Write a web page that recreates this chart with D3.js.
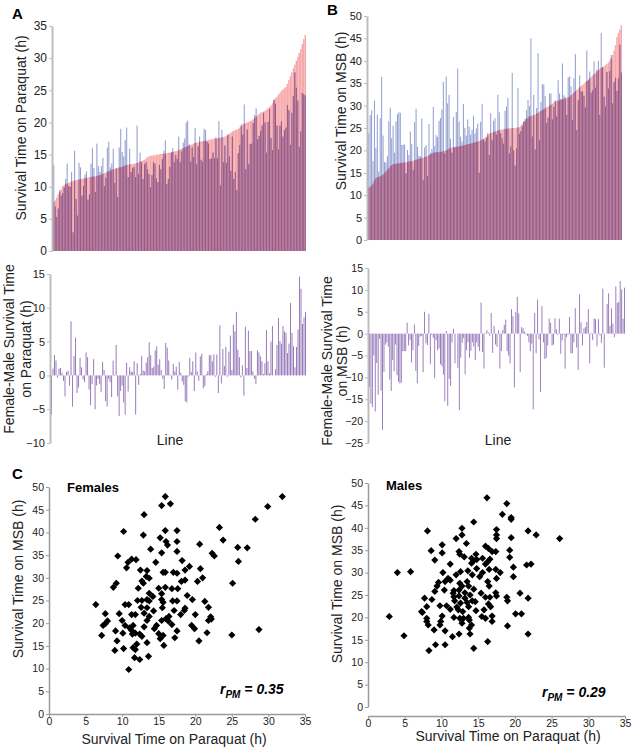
<!DOCTYPE html>
<html><head><meta charset="utf-8">
<script src="https://cdn.jsdelivr.net/npm/d3@7"></script>
<style>body{margin:0;background:#fff} svg{display:block;font-family:"Liberation Sans",Arial,sans-serif}</style>
</head><body><svg id="c" width="633" height="752"></svg>
<script>
// ---- Panel A (paraquat): female survival per line (sorted) and female-male difference
const paraquatFemale=[7.6,7.9,8.3,8.8,9.2,9.6,10.1,10.3,10.4,10.5,
10.6,10.7,10.8,10.9,11.0,11.0,11.1,11.1,11.2,11.2,
11.3,11.3,11.4,11.4,11.5,11.5,11.6,11.6,11.6,11.7,
11.7,11.8,11.9,12.0,12.1,12.2,12.3,12.4,12.5,12.6,
12.7,12.8,12.8,12.9,13.0,13.0,13.1,13.2,13.3,13.4,
13.4,13.5,13.5,13.5,13.6,13.6,13.7,13.8,13.9,14.0,
14.1,14.2,14.4,14.6,14.7,14.8,14.8,14.9,14.9,15.0,
15.0,15.0,15.1,15.1,15.1,15.2,15.2,15.3,15.3,15.4,
15.4,15.5,15.5,15.6,15.7,15.8,15.9,16.0,16.1,16.2,
16.3,16.4,16.5,16.6,16.7,16.8,16.9,16.9,17.0,17.0,
17.1,17.1,17.2,17.2,17.3,17.3,17.4,17.4,17.5,17.5,
17.5,17.6,17.6,17.7,17.7,17.8,17.9,18.0,18.2,18.4,
18.6,18.7,18.8,18.9,19.0,19.2,19.4,19.6,19.8,19.9,
20.0,20.1,20.2,20.3,20.5,20.7,20.9,21.1,21.3,21.5,
21.6,21.7,21.8,22.0,22.2,22.4,22.6,23.0,23.5,23.8,
24.0,24.3,24.6,24.9,25.1,25.3,25.5,26.0,26.6,27.2,
27.8,28.4,29.0,29.6,30.2,30.8,31.4,32.2,33.0,33.6];
const paraquatDiff=[-5.8,1.0,3.0,2.2,-0.3,1.0,1.1,0.4,-0.8,-3.1,
0.5,0.7,-1.5,8.0,-4.6,2.9,5.6,-2.6,-1.8,2.6,
1.2,-0.6,-1.0,3.4,2.7,-2.1,-4.4,-1.3,2.4,-5.0,
-1.5,-0.5,-1.3,-2.5,2.0,0.8,-3.8,-4.6,-0.5,-1.0,
-3.2,2.2,-0.1,4.5,-3.1,-6.0,-2.3,-1.5,-4.0,-5.8,
1.9,-2.4,1.2,0.6,0.5,2.1,-5.8,1.8,-1.4,0.2,
2.9,0.7,0.6,1.9,2.7,4.9,3.0,1.1,1.3,3.7,
4.3,1.6,2.4,0.8,-0.5,-2.0,4.8,4.1,2.2,0.1,
-0.6,1.7,0.6,1.3,-2.1,2.0,0.4,-0.9,-1.4,-3.8,
-4.0,-0.2,2.6,0.5,2.1,-2.3,3.4,0.6,-0.8,2.8,
3.2,-1.9,-1.6,0.2,0.6,3.0,3.0,2.1,3.1,-0.2,
3.1,-2.6,7.4,-1.2,3.9,1.4,4.2,-0.2,3.5,5.9,
0.8,7.5,6.5,9.4,3.8,2.7,-0.3,1.5,-3.0,7.2,
1.1,6.6,3.6,3.6,0.6,-0.5,-1.3,3.7,3.4,2.8,
2.1,0.2,1.8,6.7,2.1,0.3,5.0,7.3,0.0,0.9,
4.5,8.5,5.1,4.7,7.3,6.5,6.3,3.3,4.7,10.7,
6.3,4.3,1.2,4.2,6.8,14.6,12.8,7.6,8.6,9.4];
// ---- Panel B (MSB)
const msbFemale=[11.6,11.9,12.1,12.6,13.3,13.8,14.0,14.1,14.2,14.4,
14.6,14.9,15.3,15.7,16.0,16.4,16.7,16.9,17.0,17.0,
17.1,17.1,17.2,17.2,17.3,17.3,17.4,17.4,17.5,17.6,
17.6,17.7,17.8,17.9,18.0,18.1,18.2,18.3,18.4,18.5,
18.6,18.7,18.9,19.1,19.3,19.5,19.5,19.6,19.6,19.6,
19.7,19.7,19.8,19.9,20.0,20.2,20.4,20.6,20.6,20.7,
20.7,20.8,20.8,20.9,21.0,21.0,21.1,21.2,21.3,21.4,
21.4,21.5,21.6,21.7,21.8,21.9,22.0,22.1,22.2,22.4,
22.6,22.8,23.1,23.4,23.7,23.9,24.0,24.1,24.2,24.3,
24.4,24.5,24.6,24.7,24.7,24.8,24.8,24.9,24.9,24.9,
25.0,25.0,25.0,25.1,25.1,25.2,25.5,25.9,26.3,26.6,
27.0,27.3,27.6,27.7,27.8,27.9,28.0,28.2,28.4,28.6,
28.8,29.0,29.2,29.4,29.6,29.8,30.0,30.2,30.4,30.7,
30.9,31.0,31.1,31.2,31.3,31.4,31.5,31.6,31.7,31.8,
32.0,32.3,32.6,32.9,33.2,33.5,33.8,34.1,34.4,34.6,
34.9,35.2,35.5,35.8,36.1,36.4,36.7,37.0,37.3,37.6,
37.9,38.2,38.4,38.6,38.8,39.0,39.3,39.6,40.0,40.5,
41.3,42.3,43.5,45.3,46.2,47.0,47.9];
const msbDiff=[-12.2,-16,-16.8,-5.0,-17.8,-6.7,-14,-1.2,-13,-22,
-8.7,-2.5,-2.0,-3,-10.5,-13.1,-6.0,-8.6,-2.5,-9.5,
-11.0,-11.4,-11.2,-4.0,-4.0,-4.0,2.5,-2.7,-1.5,-6.6,
-3.8,2.1,-8.5,-11.4,-2.8,-0.7,-0.5,-8.8,5.0,-2.2,
-2.6,4.5,-7.0,-0.3,-1.0,-10.2,-1.5,-3.8,-3.4,-7.0,
-7.5,-9.4,-15.5,0.6,-16.5,-10.3,-12.0,-2.0,1.1,-6.8,
0.0,-7.8,-17.5,-5.5,-2.1,-1.0,-9.3,-3.8,-2.0,-5.5,
-3.9,-2.0,-3.0,-6.0,-2.0,-3.0,-4.0,7.1,-4.2,-8.0,
0.1,0.8,0.3,-0.5,4.7,-4.4,1.7,-2.5,-3.0,0.8,
-8.0,-4.0,0.8,2.0,3.2,-4.0,-5.0,-6.8,5.6,4.0,
-12.3,5.0,8.4,4.6,-8.8,1.5,1.2,0.5,-0.2,-0.5,
-2.0,-4.0,-2.3,-17.3,4.7,-4.5,7.8,-1.3,-13.3,6.3,
-2.0,-5.8,-5.5,-2.7,3.5,2.5,-2.7,-2.5,3.5,1.0,
-0.3,3.4,-4.6,-1.5,-0.2,-8.0,-0.8,-0.3,3.8,-4.5,
-4.5,-2.0,5.8,-3.2,-8.3,9.0,2.6,-2.7,1.2,1.5,
2.7,5.6,-6.8,0.2,-1.5,3.5,3.3,-2.9,3.3,-0.4,
-2.1,10.3,-7.8,0.0,6.8,9.2,1.8,5.8,2.3,-0.8,
10.8,7.0,7.3,12.0,10.1,3.4,10.5];
// ---- Panel C scatter: [paraquat, MSB]
const femalesPts=[[15.9,47.9],[15.4,45.9],[16.6,46.3],[29.9,45.7],[31.9,47.9],[13.0,43.9],[28.2,42.9],[10.2,40.2],[12.9,39.4],[15.9,40.4],[17.5,40.4],[23.3,41.1],[15.2,38.8],[16.0,38.0],[16.2,37.2],[17.5,38.0],[20.6,37.4],[23.8,38.3],[25.8,36.7],[27.1,36.6],[13.9,36.3],[15.4,35.5],[17.5,35.8],[22.3,35.4],[22.6,34.8],[9.4,34.8],[10.8,33.4],[11.3,34.1],[11.9,34.0],[10.6,32.2],[14.6,33.4],[18.2,33.8],[19.2,32.5],[18.6,31.7],[20.7,32.0],[25.9,33.6],[12.5,31.7],[13.4,31.6],[15.6,31.2],[15.9,31.2],[17.0,31.2],[17.5,31.0],[13.3,30.3],[13.7,29.9],[12.7,29.3],[12.9,28.8],[18.1,29.2],[18.6,29.5],[20.3,29.2],[21.0,30.0],[25.1,28.8],[9.2,28.8],[8.8,27.9],[12.2,27.7],[15.0,27.7],[15.9,27.9],[16.8,27.6],[17.6,27.6],[13.7,26.6],[14.2,25.9],[15.4,26.5],[18.9,26.1],[13.4,25.2],[13.7,24.9],[12.1,25.0],[12.7,25.0],[15.4,25.2],[15.6,24.6],[16.9,24.9],[17.5,24.9],[19.6,25.2],[21.3,24.8],[6.4,24.1],[10.4,24.1],[10.9,24.1],[12.6,23.5],[13.4,23.4],[15.5,23.4],[21.8,23.5],[17.1,22.8],[18.5,22.8],[18.6,23.3],[14.3,22.7],[13.0,22.2],[7.7,22.1],[9.6,22.1],[11.3,21.9],[11.8,21.9],[13.7,21.5],[16.4,21.5],[18.0,21.9],[20.0,21.9],[22.1,21.4],[22.2,20.9],[21.8,20.6],[8.0,20.5],[7.7,19.9],[7.4,19.5],[10.0,20.6],[10.4,19.5],[11.5,19.5],[13.4,20.6],[15.4,20.6],[16.0,21.0],[16.3,20.5],[16.8,19.7],[14.7,19.5],[13.0,19.2],[14.4,18.8],[19.5,19.5],[19.9,18.8],[17.5,18.3],[9.1,18.3],[11.0,19.0],[11.3,18.4],[11.4,17.6],[11.8,17.8],[10.1,17.8],[12.4,17.6],[12.7,17.1],[7.2,17.3],[15.0,17.7],[15.6,17.3],[17.2,16.8],[15.2,16.6],[21.6,17.9],[25.0,17.4],[28.7,18.6],[9.3,16.1],[13.4,15.7],[12.0,15.4],[20.5,16.1],[15.7,15.1],[11.5,14.6],[10.2,14.4],[9.0,14.0],[11.8,14.2],[13.6,12.7],[11.7,12.4],[12.4,12.0],[10.9,9.8]];
const malesPts=[[16.2,46.7],[18.9,45.4],[18.3,43.0],[19.5,42.3],[19.5,41.9],[14.4,41.3],[8.1,39.3],[12.8,39.9],[17.5,39.6],[21.8,39.3],[22.9,38.4],[26.1,37.6],[17.5,38.4],[17.5,37.6],[12.8,38.4],[12.0,37.6],[19.5,37.8],[13.4,36.5],[10.1,36.2],[16.0,35.9],[16.4,35.4],[8.6,34.9],[10.1,34.4],[12.4,34.7],[12.5,34.1],[14.7,34.1],[16.9,34.7],[17.4,34.7],[19.3,35.0],[19.3,33.4],[9.1,32.8],[13.1,33.5],[14.1,33.2],[14.4,32.7],[14.8,32.9],[15.6,33.2],[16.3,32.4],[16.6,33.0],[14.1,32.1],[16.0,31.9],[11.2,31.9],[21.6,31.7],[22.2,31.9],[19.8,31.2],[14.8,30.9],[16.5,30.7],[17.4,30.7],[13.6,30.4],[12.6,30.2],[18.0,30.0],[4.0,30.0],[5.8,30.2],[10.2,30.0],[15.6,30.0],[12.0,29.5],[14.2,29.5],[15.2,29.1],[17.5,28.7],[19.8,29.1],[10.9,28.7],[11.2,28.3],[13.5,28.0],[10.5,28.0],[16.3,28.0],[9.6,27.8],[12.5,27.6],[12.8,27.0],[13.7,27.0],[16.5,27.0],[9.4,27.0],[10.4,26.1],[11.7,26.0],[12.4,26.1],[14.4,26.3],[13.2,25.5],[11.6,25.4],[17.4,25.5],[15.4,25.4],[9.1,25.8],[20.7,25.4],[17.5,24.8],[11.7,24.6],[12.4,24.8],[13.2,24.3],[13.9,25.0],[16.0,24.5],[16.6,24.5],[18.9,24.5],[19.0,23.7],[7.7,24.3],[8.7,24.0],[21.8,24.3],[11.8,23.7],[14.2,23.7],[12.6,23.2],[13.5,23.3],[14.6,23.5],[16.4,23.0],[16.7,22.4],[9.8,22.6],[10.7,22.6],[11.2,21.8],[12.1,22.3],[12.3,21.7],[13.7,22.4],[8.0,22.4],[14.7,21.5],[12.9,21.3],[7.3,21.3],[7.4,21.1],[15.8,21.7],[20.1,20.8],[20.9,20.8],[2.9,20.2],[8.0,19.8],[10.1,20.3],[11.7,20.0],[12.5,19.8],[13.0,19.8],[15.5,20.2],[16.0,19.8],[16.9,20.3],[13.7,20.0],[8.0,19.1],[9.9,19.1],[12.8,18.7],[13.8,19.4],[16.9,19.1],[9.8,18.3],[8.2,18.3],[14.1,18.3],[19.0,18.1],[9.0,17.2],[10.5,17.0],[13.8,17.6],[13.9,16.3],[12.4,16.3],[11.5,15.7],[21.8,16.3],[4.9,15.9],[9.2,13.9],[10.5,13.9],[16.3,14.6],[14.4,13.1],[8.3,12.6]];
// ---- tick labels
const ticksTopA=[0,5,10,15,20,25,30,35];
const ticksTopB=[0,5,10,15,20,25,30,35,40,45,50];
const ticksDiffA=[-10,-5,0,5,10,15];
const ticksDiffB=[-25,-20,-15,-10,-5,0,5,10,15];
const ticksScatX=[0,5,10,15,20,25,30,35];
const ticksScatY=[0,5,10,15,20,25,30,35,40,45,50];

const svg=d3.select("#c");
const AX="#bdbdbd", TXT="#222";
const PINK="#f7a8aa", BLUE="#93a0d2", OVER="#a4587f", DIFF="#9678ba";
const FF="Liberation Sans, Arial, sans-serif";

function styleAxis(g,w,col){
  g.select(".domain").attr("stroke",col||AX).attr("stroke-width",w);
  g.selectAll(".tick line").attr("stroke",col||AX);
  g.selectAll(".tick text").attr("fill",TXT);
}

function topPanel(female,diff,x0,x1,yTop,yBot,max,ticks,fs){
  const n=Math.min(female.length,diff.length);
  const x=d3.scaleBand().domain(d3.range(n)).range([x0+1,x1]).paddingInner(0);
  const y=d3.scaleLinear().domain([0,max]).range([yBot,yTop]);
  const g=svg.append("g");
  const bw=x.bandwidth(), inner=bw*0.72, off=(bw-inner)/2;
  const rows=d3.range(n).map(i=>({i,f:female[i],m:female[i]-diff[i]}));
  g.selectAll(".p").data(rows).join("rect").attr("x",d=>x(d.i)).attr("width",bw)
    .attr("y",d=>y(d.f)).attr("height",d=>y(0)-y(d.f)).attr("fill",PINK);
  g.selectAll(".b").data(rows).join("rect").attr("x",d=>x(d.i)+off).attr("width",inner)
    .attr("y",d=>y(d.m)).attr("height",d=>y(0)-y(d.m)).attr("fill",BLUE);
  g.selectAll(".o").data(rows).join("rect").attr("x",d=>x(d.i)+off).attr("width",inner)
    .attr("y",d=>y(Math.min(d.f,d.m))).attr("height",d=>y(0)-y(Math.min(d.f,d.m))).attr("fill",OVER);
  const ax=svg.append("g").attr("transform",`translate(${x0},0)`)
    .call(d3.axisLeft(y).tickValues(ticks).tickSize(3).tickSizeOuter(0).tickPadding(2))
    .attr("font-size",fs).attr("font-family",FF);
  styleAxis(ax,2);
}

function diffPanel(diff,x0,x1,yTop,yBot,lo,hi,ticks,fs){
  const n=diff.length;
  const x=d3.scaleBand().domain(d3.range(n)).range([x0+1,x1]).paddingInner(0.35);
  const y=d3.scaleLinear().domain([lo,hi]).range([yBot,yTop]);
  svg.append("g").selectAll("rect").data(diff).join("rect")
    .attr("x",(d,i)=>x(i)).attr("width",x.bandwidth())
    .attr("y",d=>y(Math.max(0,d))).attr("height",d=>Math.abs(y(d)-y(0)))
    .attr("fill",DIFF);
  const ax=svg.append("g").attr("transform",`translate(${x0},0)`)
    .call(d3.axisLeft(y).tickValues(ticks).tickSize(3).tickSizeOuter(0).tickPadding(2))
    .attr("font-size",fs).attr("font-family",FF);
  styleAxis(ax,2);
}

function scatter(pts,x0,x1,yAxisBottom,xAxisY,yTop){
  const x=d3.scaleLinear().domain([0,35]).range([x0,x1]);
  const y=d3.scaleLinear().domain([0,50]).range([yAxisBottom,yTop]);
  const gx=svg.append("g").attr("transform",`translate(0,${xAxisY})`)
    .call(d3.axisBottom(x).tickValues(ticksScatX).tickSize(3).tickSizeOuter(0).tickPadding(1))
    .attr("font-size",10.5).attr("font-family",FF);
  styleAxis(gx,1.5,"#9a9a9a");
  const gy=svg.append("g").attr("transform",`translate(${x0},0)`)
    .call(d3.axisLeft(y).tickValues(ticksScatY).tickSize(3).tickSizeOuter(0).tickPadding(2))
    .attr("font-size",10.5).attr("font-family",FF);
  styleAxis(gy,1.5,"#9a9a9a");
  const r=3.6;
  svg.append("g").selectAll("path").data(pts).join("path")
    .attr("transform",d=>`translate(${x(d[0])},${y(d[1])})`)
    .attr("d",`M0,${-r}L${r},0L0,${r}L${-r},0Z`).attr("fill","#000");
}

topPanel(paraquatFemale,paraquatDiff,52,306,26,251,35,ticksTopA,12);
topPanel(msbFemale,msbDiff,367,622,16,240,50,ticksTopB,11);
diffPanel(paraquatDiff,50,306,274,443,-10,15,ticksDiffA,11);
diffPanel(msbDiff,368,625,268,443,-25,15,ticksDiffB,10.5);
scatter(femalesPts,49,305,714,714,487);
scatter(malesPts,368,625,707,716,483);

// ---- texts
function txt(x,y,s,opt={}){
  const t=svg.append("text").attr("x",x).attr("y",y).text(s)
    .attr("font-size",opt.size||14).attr("fill",opt.fill||TXT)
    .attr("text-anchor",opt.anchor||"middle");
  if(opt.weight) t.attr("font-weight",opt.weight);
  if(opt.rot) t.attr("transform",`rotate(-90,${x},${y})`);
  if(opt.db) t.attr("dominant-baseline",opt.db);
  return t;
}
txt(12,19,"A",{size:15,weight:"bold",anchor:"start",fill:"#000"});
txt(327,15,"B",{size:15,weight:"bold",anchor:"start",fill:"#000"});
txt(12,479,"C",{size:15,weight:"bold",anchor:"start",fill:"#000"});

txt(21,128,"Survival Time on Paraquat (h)",{rot:true,db:"central"});
txt(341,111,"Survival Time on MSB (h)",{rot:true,db:"central"});
txt(9,349,"Female-Male Survival Time",{rot:true,db:"central"});
txt(26,349,"on Paraquat (h)",{rot:true,db:"central"});
txt(327,361,"Female-Male Survival Time",{rot:true,db:"central"});
txt(342,361,"on MSB (h)",{rot:true,db:"central"});
txt(170,445,"Line",{});
txt(498,445,"Line",{});

txt(18,579,"Survival Time on MSB (h)",{rot:true,db:"central"});
txt(337,584,"Survival Time on MSB (h)",{rot:true,db:"central"});
txt(174,744,"Survival Time on Paraquat (h)",{});
txt(508,741,"Survival Time on Paraquat (h)",{});

txt(67,492,"Females",{size:13,weight:"bold",anchor:"start",fill:"#000"});
txt(386,490,"Males",{size:13,weight:"bold",anchor:"start",fill:"#000"});

function rpm(x,y,val){
  const t=svg.append("text").attr("x",x).attr("y",y).attr("font-size",14)
    .attr("font-weight","bold").attr("font-style","italic").attr("fill","#000");
  t.append("tspan").text("r");
  t.append("tspan").attr("dy",4).attr("font-size",10).text("PM");
  t.append("tspan").attr("dy",-4).text(" = "+val);
}
rpm(220,694,"0.35");
rpm(542,697,"0.29");
</script></body></html>
